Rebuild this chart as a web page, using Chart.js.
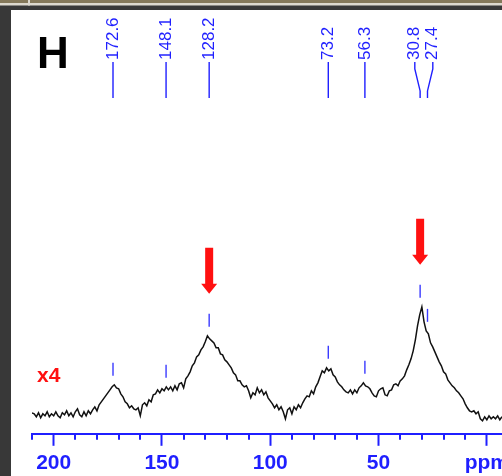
<!DOCTYPE html>
<html>
<head>
<meta charset="utf-8">
<title>13C NMR - H</title>
<script src="https://cdn.jsdelivr.net/npm/chart.js@4.4.1/dist/chart.umd.min.js"></script>
<style>
    html, body { margin: 0; padding: 0; background: #fff; }
    canvas { display: block; }
</style>
</head>
<body>
<canvas id="spectrum" width="502" height="476"></canvas>
<script>
// ======================================================================
// Data
//
// chemical shift grid (ppm), sampled every 1 ppm from 210 down to -7
const PPM_START = 210, PPM_END = -7;

// intensity (x4 expansion), one value per ppm step
const intensity = [
    21, 20, 17, 21, 16, 20, 18, 22, 17, 20,
    18, 22, 18, 16, 21, 19, 23, 18, 21, 17,
    22, 25, 19, 17, 22, 18, 23, 20, 24, 27,
    23, 29, 32, 35, 38, 41, 44, 47, 49, 46,
    45, 40, 37, 32, 30, 26, 28, 25, 24, 26,
    18, 29, 31, 28, 34, 32, 39, 40, 44, 41,
    45, 43, 47, 44, 47, 43, 48, 44, 50, 51,
    46, 55, 58, 62, 68, 71, 77, 79, 84, 87,
    92, 98, 95, 93, 91, 86, 86, 80, 79, 74,
    72, 69, 66, 61, 59, 53, 53, 49, 47, 48,
    43, 36, 41, 39, 46, 41, 44, 39, 42, 36,
    33, 30, 26, 29, 24, 27, 22, 15, 24, 26,
    20, 27, 24, 29, 26, 31, 35, 38, 37, 43,
    40, 47, 51, 57, 63, 61, 66, 63, 65, 59,
    57, 52, 49, 47, 44, 42, 41, 44, 40, 44,
    41, 46, 48, 51, 48, 47, 45, 41, 38, 37,
    43, 45, 46, 39, 38, 43, 44, 49, 50, 48,
    53, 55, 58, 64, 69, 75, 83, 94, 108, 119,
    127, 112, 103, 100, 91, 87, 82, 77, 72, 68,
    62, 60, 54, 51, 48, 46, 43, 41, 38, 35,
    30, 26, 23, 22, 23, 20, 22, 15, 13, 17,
    14, 18, 15, 17, 15, 18, 14, 17
];

// picked peaks and the two highlighted by arrows
const peakShifts = [172.6, 148.1, 128.2, 73.2, 56.3, 30.8, 27.4];
const peakLabels = ['172.6', '148.1', '128.2', '73.2', '56.3', '30.8', '27.4'];
const arrowShifts = [128.2, 30.8];

// axis: ticks every 10 ppm, labels every 50, the 0 label replaced by the unit
const majorStep = 50, minorStep = 10, tickMax = 210;
const unitLabel = 'ppm';

const panelLetter = 'H';
const scaleNote = 'x4';

// ======================================================================
// Styles
//
const
    BLUE = '#1f1fff',
    MARK_BLUE = '#3a3aff',
    RED = '#ff1010',
    FONT = "'Liberation Sans', Arial, sans-serif";

const ppm = [];
for (let v = PPM_START; v >= PPM_END; v--) ppm.push(v);

const tickValues = [];
for (let v = 0; v <= tickMax; v += minorStep) tickValues.push(v);

// ======================================================================
// Plugins
//
const frame = {
    id: 'frame',
    beforeDraw(chart) {
        const { ctx, width, height } = chart;
        ctx.save();
        ctx.fillStyle = '#383838';
        ctx.fillRect(0, 0, width, height);
        ctx.fillStyle = '#fff';
        ctx.fillRect(11, 10, width - 11, height - 10);
        ctx.fillStyle = '#84785a';
        ctx.fillRect(0, 0, width, 3);
        ctx.fillStyle = '#dcd8ce';
        ctx.fillRect(0, 3, width, 2.5);
        ctx.fillRect(28, 0, 2, 5.5);
        ctx.restore();
    }
};

// short ticks every 10 ppm (the 50 ppm ones come from the axis itself)
const minorTicks = {
    id: 'minorTicks',
    afterDraw(chart) {
        const { ctx, chartArea, scales: { x } } = chart;
        ctx.save();
        ctx.strokeStyle = BLUE;
        ctx.lineWidth = 2;
        x.ticks
            .filter(t => t.value % majorStep !== 0)
            .forEach(t => {
                const px = Math.round(x.getPixelForValue(t.value));
                ctx.beginPath();
                ctx.moveTo(px, chartArea.bottom);
                ctx.lineTo(px, chartArea.bottom + 6);
                ctx.stroke();
            });
        ctx.restore();
    }
};

// highest point of the trace around a shift
function localMax(shift, halfWidth = 1.5) {
    let m = -Infinity;
    ppm.forEach((p, i) => {
        if (Math.abs(p - shift) <= halfWidth) m = Math.max(m, intensity[i]);
    });
    return m;
}

const peakMarks = {
    id: 'peakMarks',
    afterDraw(chart) {
        const { ctx, scales: { x, y } } = chart;
        const lineTop = y.getPixelForValue(372),
            lineBottom = y.getPixelForValue(336),
            minGap = 18;

        // label positions, pushed apart where two peaks crowd each other
        const lx = peakShifts.map(s => x.getPixelForValue(s));
        for (let i = 1; i < lx.length; i++) {
            if (lx[i] - lx[i - 1] < minGap) {
                const mid = (lx[i] + lx[i - 1]) / 2;
                lx[i - 1] = mid - minGap / 2;
                lx[i] = mid + minGap / 2;
            }
        }

        ctx.save();
        ctx.strokeStyle = BLUE;
        ctx.fillStyle = BLUE;
        ctx.lineWidth = 1.4;
        ctx.font = `17px ${FONT}`;

        peakShifts.forEach((s, i) => {
            const px = x.getPixelForValue(s);

            ctx.beginPath();
            if (Math.abs(px - lx[i]) < 0.5) {
                ctx.moveTo(px, lineTop);
                ctx.lineTo(px, lineBottom);
            } else {
                ctx.moveTo(lx[i], lineTop);
                ctx.lineTo(lx[i], lineTop + 7);
                ctx.lineTo(px, lineBottom - 7);
                ctx.lineTo(px, lineBottom);
            }
            ctx.stroke();

            ctx.save();
            ctx.translate(lx[i], lineTop - 2);
            ctx.rotate(-Math.PI / 2);
            ctx.textAlign = 'left';
            ctx.textBaseline = 'middle';
            ctx.fillText(peakLabels[i], 0, 0);
            ctx.restore();

            // short tick just above the peak in the trace
            const top = localMax(s);
            ctx.save();
            ctx.strokeStyle = MARK_BLUE;
            ctx.beginPath();
            ctx.moveTo(px, y.getPixelForValue(top + 9));
            ctx.lineTo(px, y.getPixelForValue(top + 22));
            ctx.stroke();
            ctx.restore();
        });

        // red arrows over the highlighted peaks
        ctx.fillStyle = RED;
        arrowShifts.forEach(s => {
            const px = x.getPixelForValue(s),
                tip = y.getPixelForValue(localMax(s) + 22) - 20,
                len = 46, shaft = 4, head = 8, headLen = 10;
            ctx.beginPath();
            ctx.moveTo(px - shaft, tip - len);
            ctx.lineTo(px + shaft, tip - len);
            ctx.lineTo(px + shaft, tip - headLen);
            ctx.lineTo(px + head, tip - headLen);
            ctx.lineTo(px, tip);
            ctx.lineTo(px - head, tip - headLen);
            ctx.lineTo(px - shaft, tip - headLen);
            ctx.closePath();
            ctx.fill();
        });

        ctx.textAlign = 'left';
        ctx.textBaseline = 'alphabetic';
        ctx.font = `bold 21px ${FONT}`;
        ctx.fillText(scaleNote, 37, 382);

        ctx.fillStyle = '#000';
        ctx.font = `bold 44px ${FONT}`;
        ctx.fillText(panelLetter, 37, 68);
        ctx.restore();
    }
};

// ======================================================================
// Chart
//
const chart = new Chart(document.getElementById('spectrum'), {
    type: 'line',
    data: {
        datasets: [{
            data: ppm.map((p, i) => ({ x: p, y: intensity[i] })),
            borderColor: '#111',
            borderWidth: 1.5,
            pointRadius: 0,
            tension: 0
        }]
    },
    options: {
        responsive: false,
        animation: false,
        // the axis box reserves its tick padding twice; pull it back
        layout: { padding: { left: 32, right: 0, top: 10, bottom: -5 } },
        plugins: {
            legend: { display: false },
            tooltip: { enabled: false }
        },
        scales: {
            x: {
                type: 'linear',
                reverse: true,
                min: PPM_END,
                max: PPM_START,
                afterBuildTicks: scale => {
                    scale.ticks = tickValues.map(v => ({ value: v }));
                },
                border: { color: BLUE, width: 2 },
                grid: {
                    drawOnChartArea: false,
                    tickLength: 12,
                    tickWidth: 2,
                    tickColor: c => (c.tick && c.tick.value % majorStep === 0) ? BLUE : 'rgba(0,0,0,0)'
                },
                ticks: {
                    autoSkip: false,
                    maxRotation: 0,
                    padding: 5,
                    color: BLUE,
                    font: { family: FONT, size: 21, weight: 'bold' },
                    callback: v => v === 0 ? unitLabel : (v % majorStep === 0 ? String(v) : '')
                }
            },
            y: { display: false, min: 0, max: 424 }
        }
    },
    plugins: [frame, minorTicks, peakMarks]
});
</script>
</body>
</html>
